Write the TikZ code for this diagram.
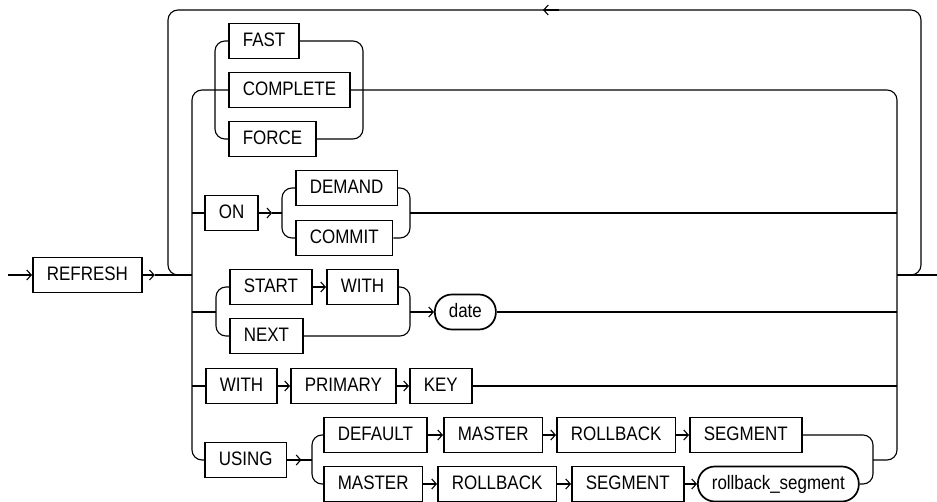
\documentclass[tikz,border=0pt]{standalone}
\usepackage{fontspec}
\setmainfont[FakeStretch=0.87]{Liberation Sans}
\usetikzlibrary{arrows.meta}

\begin{document}
\begin{tikzpicture}[
x=1pt,
y=-1pt,
every node/.style={font=\fontsize{19.5}{22}\selectfont},
kw/.style={rectangle,draw,line width=1.7pt,minimum height=35pt,inner xsep=14pt,inner ysep=0pt,text height=14pt,text depth=2.5pt,anchor=west},
term/.style={rectangle,rounded corners=17pt,draw,line width=1.7pt,minimum height=35pt,inner xsep=14pt,inner ysep=0pt,text height=14pt,text depth=2.5pt,anchor=west},
rail/.style={line width=1.1pt,rounded corners=10pt},
arr/.style={line width=1.1pt,-{Straight Barb[length=4.5pt,width=10pt]}}
]
\useasboundingbox (0,0) rectangle (937,502);
\coordinate (entry) at (8,275);
\coordinate (exit) at (937,275);
\coordinate (railL) at (192,275);
\coordinate (railR) at (897,275);
\coordinate (merge) at (873,460);
\coordinate (loopmark) at (559,10);

\node[kw] (refresh) at (32,275) {REFRESH};
\node[kw] (fast) at (228,41) {FAST};
\node[kw] (complete) at (228,90) {COMPLETE};
\node[kw] (force) at (228,139) {FORCE};
\node[kw] (on) at (204,213) {ON};
\node[kw] (demand) at (295,188) {DEMAND};
\node[kw] (commit) at (295,238) {COMMIT};
\node[kw] (start) at (229,287) {START};
\node[kw] (with) at (326,287) {WITH};
\node[kw] (next) at (229,336) {NEXT};
\node[term] (date) at (434,312) {date};
\node[kw] (withkey) at (205,386) {WITH};
\node[kw] (primary) at (290,386) {PRIMARY};
\node[kw] (key) at (409,386) {KEY};
\node[kw] (using) at (204,460) {USING};
\node[kw] (default) at (323,435) {DEFAULT};
\node[kw] (mastera) at (443,435) {MASTER};
\node[kw] (rollbacka) at (556,435) {ROLLBACK};
\node[kw] (segmenta) at (689,435) {SEGMENT};
\node[kw] (masterb) at (323,484) {MASTER};
\node[kw] (rollbackb) at (437,484) {ROLLBACK};
\node[kw] (segmentb) at (571,484) {SEGMENT};
\node[term] (rbseg) at (697,484) {rollback\_segment};

\draw[arr] (entry) -- (refresh.west);
\draw[arr] (refresh.east) -- ++(12,0) coordinate (refout);
\draw[rail] (refout) -- (railL);
\draw[rail] (railR) -| (921,10) -| (168,275) -- (railL);
\draw[arr] (loopmark) -- ++(-16,0);
\draw[rail] (railR) -- (exit);

\draw[rail] (complete.west) -| (railL |- using.west) -- (using.west);
\draw[rail] (complete.east) -| (railR |- merge) -- (merge);

\draw[rail] (fast.west) -| (215,139) -- (force.west);
\draw[rail] (fast.east) -| (363,139) -- (force.east);

\draw[rail] (railL |- on.west) -- (on.west);
\draw[arr] (on.east) -- ++(13,0) coordinate (onout);
\draw[rail] (onout) -- (282,213);
\draw[rail] (demand.west) -| (282,238) -- (commit.west);
\draw[rail] (demand.east) -| (410,238) -- (commit.east);
\draw[rail] (410,213) -- (railR |- on.east);

\draw[rail] (railL |- date.west) -- (216,312);
\draw[rail] (start.west) -| (216,336) -- (next.west);
\draw[arr] (start.east) -- (with.west);
\draw[rail] (with.east) -| (410,336) -- (next.east);
\draw[arr] (410,312) -- (date.west);
\draw[rail] (date.east) -- (railR |- date.east);

\draw[rail] (railL |- withkey.west) -- (withkey.west);
\draw[arr] (withkey.east) -- (primary.west);
\draw[arr] (primary.east) -- (key.west);
\draw[rail] (key.east) -- (railR |- key.east);

\draw[arr] (using.east) -- ++(14,0) coordinate (usingout);
\draw[rail] (usingout) -- (312,460);
\draw[rail] (default.west) -| (312,484) -- (masterb.west);
\draw[arr] (default.east) -- (mastera.west);
\draw[arr] (mastera.east) -- (rollbacka.west);
\draw[arr] (rollbacka.east) -- (segmenta.west);
\draw[arr] (masterb.east) -- (rollbackb.west);
\draw[arr] (rollbackb.east) -- (segmentb.west);
\draw[arr] (segmentb.east) -- (rbseg.west);
\draw[rail] (segmenta.east) -| (merge |- rbseg.east) -- (rbseg.east);
\end{tikzpicture}
\end{document}
